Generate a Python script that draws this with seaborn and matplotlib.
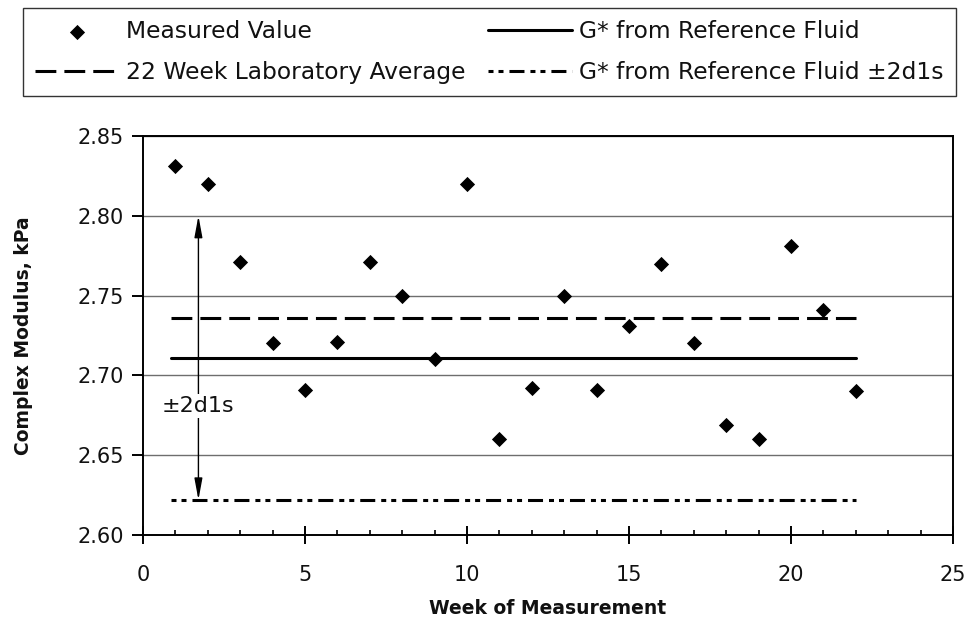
import numpy as np
import pandas as pd
import matplotlib
matplotlib.use("Agg")
import matplotlib.pyplot as plt
from matplotlib.ticker import MultipleLocator, FormatStrFormatter
import seaborn as sns

# ---- data ----
weeks = [1, 2, 3, 4, 5, 6, 7, 8, 9, 10, 11, 12, 13, 14, 15, 16, 17, 18, 19, 20, 21, 22]
measured = [2.831, 2.820, 2.771, 2.720, 2.691, 2.721, 2.771, 2.750, 2.710, 2.820, 2.660,
            2.692, 2.750, 2.691, 2.731, 2.770, 2.720, 2.669, 2.660, 2.781, 2.741, 2.690]
line_weeks = [0.85, 22]
lab_average = 2.736
gstar_ref = 2.711
gstar_lower = 2.622
gstar_upper = 2.800
band_label = "±2d1s"
legend_labels = ["Measured Value", "22 Week Laboratory Average",
                 "G* from Reference Fluid", "G* from Reference Fluid ±2d1s"]
x_label = "Week of Measurement"
y_label = "Complex Modulus, kPa"

sns.set_theme(style="ticks")
plt.rcParams["font.family"] = ["DejaVu Sans"]
plt.rcParams["lines.scale_dashes"] = False

fig = plt.figure(figsize=(9.67, 6.19), dpi=100)
ax = fig.add_axes([0.1479, 0.1357, 0.8376, 0.6446])

sns.scatterplot(x=weeks, y=measured, marker="D", s=60, color="black",
                linewidth=0, label=legend_labels[0], ax=ax, zorder=5)

lw = 2.2
df_avg = pd.DataFrame({"x": line_weeks, "y": [lab_average] * 2})
df_ref = pd.DataFrame({"x": line_weeks, "y": [gstar_ref] * 2})
df_low = pd.DataFrame({"x": line_weeks, "y": [gstar_lower] * 2})
sns.lineplot(data=df_avg, x="x", y="y", color="black", lw=lw,
             linestyle=(0, (15, 5.8)), label=legend_labels[1], ax=ax)
sns.lineplot(data=df_ref, x="x", y="y", color="black", lw=lw,
             linestyle="-", label=legend_labels[2], ax=ax)
sns.lineplot(data=df_low, x="x", y="y", color="black", lw=lw,
             linestyle=(15.1, (10.8, 4.3, 3.6, 3.6, 3.6, 4.3)),
             label=legend_labels[3], ax=ax)

# arrow for the band
arrow_x = 1.71
ax.annotate("", xy=(arrow_x, gstar_upper), xytext=(arrow_x, gstar_lower),
            arrowprops=dict(arrowstyle="<|-|>,head_length=0.65,head_width=0.12",
                            color="black", lw=1.0, shrinkA=0, shrinkB=0,
                            mutation_scale=20), zorder=3)
ax.text(arrow_x, 2.681, band_label, ha="center", va="center", fontsize=16,
        color="#111111", zorder=4,
        bbox=dict(facecolor="white", edgecolor="none", pad=1.5))

ax.set_xlim(0, 25)
ax.set_ylim(2.60, 2.85)
ax.xaxis.set_major_locator(MultipleLocator(5))
ax.xaxis.set_minor_locator(MultipleLocator(1))
ax.yaxis.set_major_locator(MultipleLocator(0.05))
ax.yaxis.set_major_formatter(FormatStrFormatter("%.2f"))

ax.grid(axis="y", which="major", color="#6e6e6e", lw=1.0)
ax.set_axisbelow(True)
for sp in ax.spines.values():
    sp.set_visible(True)
    sp.set_color("black")
    sp.set_linewidth(1.4)

ax.tick_params(axis="x", which="major", direction="inout", length=13, width=1.4,
               labelsize=15, pad=15, colors="black", labelcolor="#111111")
ax.tick_params(axis="x", which="minor", direction="in", length=3.5, width=1.2,
               colors="black")
ax.tick_params(axis="y", which="major", direction="out", length=8, width=1.4,
               labelsize=15, pad=6, colors="black", labelcolor="#111111")

ax.set_xlabel(x_label, fontsize=13.5, fontweight="bold", color="#111111", labelpad=10)
ax.set_ylabel(y_label, fontsize=13.5, fontweight="bold", color="#111111")
ax.yaxis.set_label_coords(-0.136, 0.5)

handles, labels = ax.get_legend_handles_labels()
ax.get_legend().remove()
order = [labels.index(l) for l in legend_labels]
leg = fig.legend([handles[i] for i in order], [labels[i] for i in order],
                 ncol=2, loc="upper center", bbox_to_anchor=(0.506, 0.987),
                 borderaxespad=0.0,
                 fontsize=16.8, handlelength=3.6, handletextpad=0.3,
                 columnspacing=1.0, labelspacing=0.8, borderpad=0.5,
                 fancybox=False, frameon=True, scatterpoints=1)
leg.get_frame().set_edgecolor("black")
leg.get_frame().set_linewidth(1.0)
for t in leg.get_texts():
    t.set_color("#111111")

fig.savefig("out.png", dpi=100)
